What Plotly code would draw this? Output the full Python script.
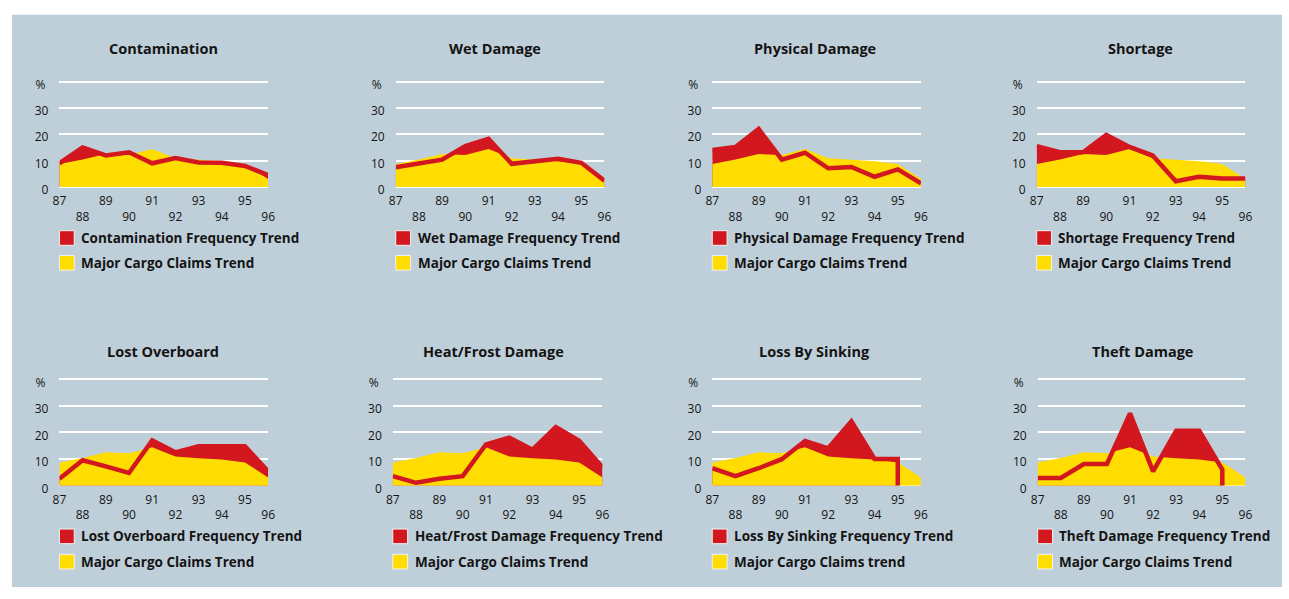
import plotly.graph_objects as go

# Years and the shared "Major Cargo Claims" trend (percent)
YEARS = [87, 88, 89, 90, 91, 92, 93, 94, 95, 96]
YEAR_LABELS = ["87", "88", "89", "90", "91", "92", "93", "94", "95", "96"]
CLAIMS_TREND = [8.7, 10.4, 12.5, 12.1, 14.4, 10.9, 10.3, 9.8, 8.7, 3.0]

Y_TICKS = [0, 10, 20, 30, 40]
Y_TICK_LABELS = ["0", "10", "20", "30", "%\u00a0"]

# frequency trend by claim type (percent)
contamination = [9.0, 15.0, 12.0, 13.2, 9.0, 11.0, 9.3, 9.2, 8.0, 4.5]
wet_damage = [7.5, 8.8, 10.4, 15.5, 18.3, 8.8, 9.6, 10.7, 9.2, 2.4]
physical_damage = [14.0, 15.2, 22.0, 10.4, 13.0, 7.1, 7.6, 3.9, 6.7, 1.4]
shortage = [15.5, 13.2, 13.2, 19.8, 15.2, 12.0, 2.2, 3.9, 3.2, 3.2]
lost_overboard = [2.5, 9.5, 7.2, 4.7, 17.0, 12.5, 14.8, 14.8, 14.8, 5.3]
heat_frost = [3.5, 1.0, 2.5, 3.5, 15.5, 18.0, 13.5, 22.0, 16.9, 6.8]
# these two series stop in 95 and drop to zero
stop_years = [87, 88, 89, 90, 91, 92, 93, 94, 95, 95]
loss_by_sinking = [6.5, 3.5, 6.5, 9.9, 16.8, 14.0, 24.2, 10.0, 10.0, 0.0]
theft_damage = [2.8, 2.8, 8.1, 8.1, 27.2, 5.3, 20.6, 20.6, 6.0, 0.0]

PANELS = [
    ("Contamination", "Contamination Frequency Trend", "Major Cargo Claims Trend", YEARS, contamination),
    ("Wet Damage", "Wet Damage Frequency Trend", "Major Cargo Claims Trend", YEARS, wet_damage),
    ("Physical Damage", "Physical Damage Frequency Trend", "Major Cargo Claims Trend", YEARS, physical_damage),
    ("Shortage", "Shortage Frequency Trend", "Major Cargo Claims Trend", YEARS, shortage),
    ("Lost Overboard", "Lost Overboard Frequency Trend", "Major Cargo Claims Trend", YEARS, lost_overboard),
    ("Heat/Frost Damage", "Heat/Frost Damage Frequency Trend", "Major Cargo Claims Trend", YEARS, heat_frost),
    ("Loss By Sinking", "Loss By Sinking Frequency Trend", "Major Cargo Claims trend", stop_years, loss_by_sinking),
    ("Theft Damage", "Theft Damage Frequency Trend", "Major Cargo Claims Trend", stop_years, theft_damage),
]

W, H = 1289, 599
RED = "#d2171f"
YELLOW = "#ffdd00"
BLUE = "#bfcfd9"
TEXT = "#141414"
FONT = "Open Sans"
PAD = 0.4  # axis padding (in %) so the 0 and 40 grid lines are kept

# plot-area left/right edges and title centre in pixels, per panel
PLOT_X = [(53, 264, 158), (393, 604, 493), (713, 924, 817), (1041, 1252, 1146),
          (53, 264, 158), (390, 602, 492), (713, 924, 816), (1042, 1252, 1148)]
# per row: (y of 40 line, y of 0 line, title y, legend row 1 y, legend row 2 y)
ROWS = [(78.5, 186.7, 45, 239, 264.5), (384, 492.8, 355, 545, 571)]


def px_x(x):
    return x / W


def px_y(y):
    return 1 - y / H


fig = go.Figure()
annotations = []
shapes = [
    dict(type="rect", xref="paper", yref="paper", x0=px_x(5), x1=1,
         y0=px_y(597), y1=px_y(10), fillcolor=BLUE, line={"width": 0}, layer="below"),
]

for i, (title, freq_label, claims_label, xs, ys) in enumerate(PANELS):
    n = i + 1
    xa, ya = f"x{n}", f"y{n}"
    left, right, title_x = PLOT_X[i]
    top, bottom, title_y, leg1, leg2 = ROWS[i // 4]
    unit = (bottom - top) / 40

    fig.add_trace(go.Scatter(x=xs, y=ys, xaxis=xa, yaxis=ya, mode="none",
                             fill="tozeroy", fillcolor=RED, hoverinfo="skip", showlegend=False))
    fig.add_trace(go.Scatter(x=YEARS, y=CLAIMS_TREND, xaxis=xa, yaxis=ya, mode="none",
                             fill="tozeroy", fillcolor=YELLOW, hoverinfo="skip", showlegend=False))
    fig.add_trace(go.Scatter(x=xs, y=ys, xaxis=xa, yaxis=ya, mode="lines",
                             line={"color": RED, "width": 4.5}, hoverinfo="skip", showlegend=False))

    fig.update_layout({
        f"xaxis{n}": dict(
            domain=[px_x(left), px_x(right)], anchor=ya, range=[87, 96],
            tickvals=YEARS,
            ticktext=[t if int(t) % 2 else "<br>" + t for t in YEAR_LABELS],
            showgrid=False, zeroline=False, showline=False, ticks="",
            tickfont={"size": 12, "color": TEXT, "family": FONT},
            ticklabelstandoff=4, fixedrange=True,
        ),
        f"yaxis{n}": dict(
            domain=[px_y(bottom + PAD * unit), px_y(top - PAD * unit)], anchor=xa,
            range=[-PAD, 40 + PAD],
            tickvals=Y_TICKS, ticktext=Y_TICK_LABELS,
            showgrid=True, gridcolor="white", gridwidth=1.5,
            zeroline=False, showline=False, ticks="",
            tickfont={"size": 12, "color": TEXT, "family": FONT},
            ticklabelstandoff=10, ticklabelshift=3, fixedrange=True,
        ),
    })

    annotations.append(dict(
        text=title, xref="paper", yref="paper", x=px_x(title_x), y=px_y(title_y),
        xanchor="center", yanchor="middle", showarrow=False,
        font={"size": 14.5, "color": TEXT, "family": FONT, "weight": 700},
    ))
    for label, color, cy in ((freq_label, RED, leg1), (claims_label, YELLOW, leg2)):
        shapes.append(dict(
            type="rect", xref="paper", yref="paper",
            x0=px_x(left), x1=px_x(left + 15), y0=px_y(cy + 7.5), y1=px_y(cy - 7.5),
            fillcolor=color, line={"color": "#f2f2f2", "width": 1},
        ))
        annotations.append(dict(
            text=label, xref="paper", yref="paper", x=px_x(left + 20), y=px_y(cy),
            xanchor="left", yanchor="middle", showarrow=False,
            font={"size": 13.5, "color": TEXT, "family": FONT, "weight": 700},
        ))

fig.update_layout(
    width=W, height=H,
    margin={"l": 0, "r": 0, "t": 0, "b": 0},
    paper_bgcolor="white", plot_bgcolor="rgba(0,0,0,0)",
    font={"family": FONT, "color": TEXT},
    annotations=annotations, shapes=shapes,
    showlegend=False,
)

fig.write_html(
    "out.html",
    config={"displayModeBar": False},
    post_script="document.body.style.margin='0';document.body.style.overflow='hidden';",
)
